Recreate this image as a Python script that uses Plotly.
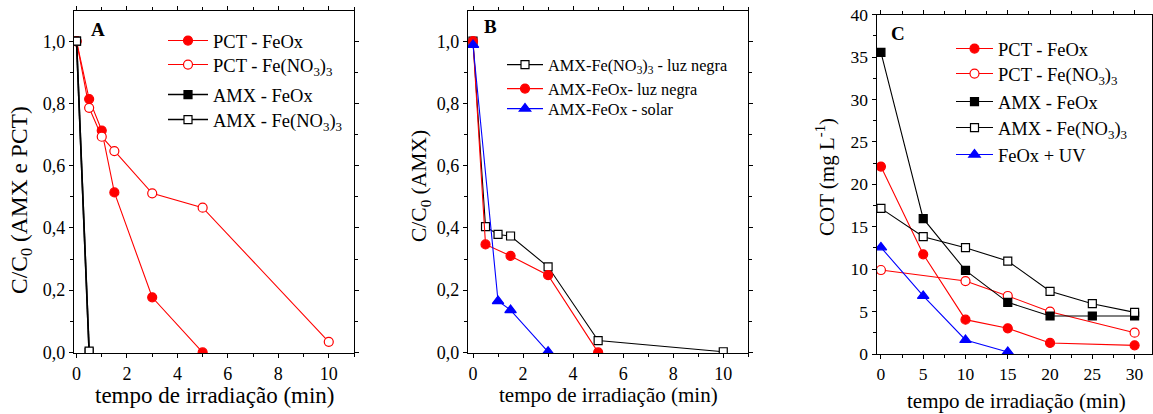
import plotly.graph_objects as go

W, H = 1153, 414
FONT = "Liberation Serif"

# ---------------- data ----------------
# Panel A
a_t_pct_feox = [0, 0.5, 1, 1.5, 3, 5]
a_pct_feox = [1.0, 0.814, 0.713, 0.514, 0.177, 0.0]
a_t_pct_fen = [0, 0.5, 1, 1.5, 3, 5, 10]
a_pct_fen = [1.0, 0.786, 0.693, 0.647, 0.511, 0.465, 0.034]
a_t_amx_feox = [0, 0.5]
a_amx_feox = [1.0, 0.0]
a_t_amx_fen = [0, 0.5]
a_amx_fen = [1.0, 0.004]

# Panel B
b_t_fen = [0, 0.5, 1, 1.5, 3, 5, 10]
b_fen = [1.0, 0.404, 0.379, 0.374, 0.275, 0.038, 0.002]
b_t_feox = [0, 0.5, 1.5, 3, 5]
b_feox = [1.0, 0.347, 0.310, 0.248, 0.0]
b_t_solar = [0, 1, 1.5, 3]
b_solar = [0.988, 0.165, 0.136, 0.002]

# Panel C
c_t_pct_feox = [0, 5, 10, 15, 20, 30]
c_pct_feox = [22.1, 11.75, 4.05, 3.03, 1.3, 1.02]
c_t_pct_fen = [0, 10, 15, 20, 30]
c_pct_fen = [9.9, 8.6, 6.84, 4.99, 2.51]
c_t_amx_feox = [0, 5, 10, 15, 20, 25, 30]
c_amx_feox = [35.56, 15.95, 9.86, 6.09, 4.48, 4.48, 4.48]
c_t_amx_fen = [0, 5, 10, 15, 20, 25, 30]
c_amx_fen = [17.17, 13.83, 12.53, 10.96, 7.39, 5.93, 4.91]
c_t_uv = [0, 5, 10, 15]
c_uv = [12.57, 6.84, 1.65, 0.24]

FEN = "Fe(NO<sub>3</sub>)<sub>3</sub>"


def px(x):
    return x / W


def py(y):
    return 1 - y / H


fig = go.Figure()

RED = "#ff0000"
BLK = "#000000"
BLU = "#0000ff"

legends = {}
_n = [0]


def add(x, y, name, color, symbol, filled, xa, ya, tx, ly, lsize, iw, size=9, lw=1.1):
    _n[0] += 1
    key = "legend" if _n[0] == 1 else "legend%d" % _n[0]
    legends[key] = dict(x=px(tx - (iw + 10)), y=py(ly), xanchor="left", yanchor="middle",
                        bgcolor="rgba(0,0,0,0)", borderwidth=0,
                        font=dict(family=FONT, size=lsize, color="black"),
                        itemwidth=iw)
    fig.add_trace(go.Scatter(
        x=x, y=y, name=name, mode="lines+markers",
        line=dict(color=color, width=lw),
        marker=dict(symbol=symbol, size=size,
                    color=color if filled else "white",
                    line=dict(color=color, width=1.2)),
        xaxis=xa, yaxis=ya, legend=key,
    ))


# Panel A
add(a_t_pct_feox, a_pct_feox, "PCT - FeOx", RED, "circle", True, "x", "y", 213, 41, 18.5, 40)
add(a_t_pct_fen, a_pct_fen, "PCT - " + FEN, RED, "circle", False, "x", "y", 213, 65, 18.5, 40)
add(a_t_amx_feox, a_amx_feox, "AMX - FeOx", BLK, "square", True, "x", "y", 213, 95, 18.5, 40, size=8, lw=1.6)
add(a_t_amx_fen, a_amx_fen, "AMX - " + FEN, BLK, "square", False, "x", "y", 213, 120, 18.5, 40, size=8, lw=1.6)

# Panel B
add(b_t_fen, b_fen, "AMX-" + FEN + " - luz negra", BLK, "square", False, "x2", "y2", 548, 65, 16.3, 36, size=8)
add(b_t_feox, b_feox, "AMX-FeOx- luz negra", RED, "circle", True, "x2", "y2", 548, 89, 16.3, 36)
add(b_t_solar, b_solar, "AMX-FeOx - solar", BLU, "triangle-up", True, "x2", "y2", 548, 109, 16.3, 36, size=10)

# Panel C
add(c_t_pct_feox, c_pct_feox, "PCT - FeOx", RED, "circle", True, "x3", "y3", 998, 49, 18.5, 37)
add(c_t_pct_fen, c_pct_fen, "PCT - " + FEN, RED, "circle", False, "x3", "y3", 998, 74, 18.5, 37)
add(c_t_amx_feox, c_amx_feox, "AMX - FeOx", BLK, "square", True, "x3", "y3", 998, 102, 18.5, 37, size=8)
add(c_t_amx_fen, c_amx_fen, "AMX - " + FEN, BLK, "square", False, "x3", "y3", 998, 128, 18.5, 37, size=8)
add(c_t_uv, c_uv, "FeOx + UV", BLU, "triangle-up", True, "x3", "y3", 998, 155, 18.5, 37, size=10)


def xax(domain, rng, dtick, minor, tfs):
    return dict(domain=domain, range=rng, dtick=dtick, tick0=0, showgrid=False,
                zeroline=False, showline=True, linecolor="black", linewidth=1.2,
                mirror="allticks", ticks="outside", ticklen=4, tickwidth=1,
                tickcolor="black", automargin=False,
                minor=dict(dtick=minor, tick0=0, ticks="outside", ticklen=2.5,
                           tickcolor="black", showgrid=False),
                tickfont=dict(family=FONT, size=tfs, color="black"))


def yax(domain, rng, dtick, minor, tfs, anchor, fmt=None):
    d = xax(domain, rng, dtick, minor, tfs)
    d["anchor"] = anchor
    if fmt:
        d["tickformat"] = fmt
    return d


xa = xax([px(74), px(354)], [-0.1, 11], 2, 1, 18)
xa["anchor"] = "y"
ya = yax([py(353), py(10.7)], [-0.002, 1.098], 0.2, 0.1, 18, "x", ".1f")
xb = xax([px(468), px(748.3)], [-0.2, 11], 2, 1, 18)
xb["anchor"] = "y2"
yb = yax([py(353), py(10.7)], [-0.002, 1.098], 0.2, 0.1, 18, "x2", ".1f")
xc = xax([px(876.7), px(1151.5)], [-0.5, -0.5 + (1151.5 - 876.7) / 8.456], 5, 2.5, 17.5)
xc["anchor"] = "y3"
yc = yax([py(354), py(14.7)], [0, 40], 5, 2.5, 17.5, "x3")

ann = []


def text(x, y, s, size, bold=False, angle=0):
    ann.append(dict(x=px(x), y=py(y), xref="paper", yref="paper", text=("<b>%s</b>" % s) if bold else s,
                    showarrow=False, xanchor="center", yanchor="middle", textangle=angle,
                    font=dict(family=FONT, size=size, color="black")))


text(98, 30, "A", 19, bold=True)
text(490, 27, "B", 19, bold=True)
text(898, 33, "C", 19, bold=True)
text(214.5, 395.5, "tempo de irradiação (min)", 23)
text(608, 395, "tempo de irradiação (min)", 21)
text(1016, 401, "tempo de irradiação (min)", 21)
text(21, 200, "C/C<sub>0</sub> (AMX e PCT)", 23.5, angle=-90)
text(420, 186, "C/C<sub>0</sub> (AMX)", 21.5, angle=-90)
text(825, 177, "COT (mg L<sup>-1</sup>)", 21, angle=-90)

fig.update_layout(
    width=W, height=H, margin=dict(l=0, r=0, t=0, b=0, autoexpand=False),
    paper_bgcolor="white", plot_bgcolor="white",
    separators=",.",
    xaxis=xa, yaxis=ya, xaxis2=xb, yaxis2=yb, xaxis3=xc, yaxis3=yc,
    annotations=ann,
    showlegend=True,
    **legends,
)

fig.write_html("out.html")
